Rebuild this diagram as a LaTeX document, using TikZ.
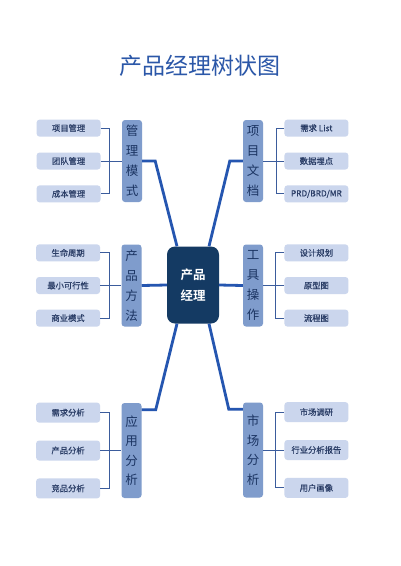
\documentclass[tikz,border=0pt]{standalone}
\usepackage{fontspec}
\setmainfont{Noto Sans CJK SC}[BoldFont={Noto Sans CJK SC Bold}]
\newfontfamily\leaffont{Noto Sans CJK SC}[FakeBold=0.7]
\usepackage{xcolor}
\usepackage{tikz}
\usetikzlibrary{positioning}

\definecolor{titleblue}{HTML}{2B57A8}
\definecolor{linkblue}{HTML}{2556B0}
\definecolor{bracketblue}{HTML}{3B5C9C}
\definecolor{hubnavy}{HTML}{143A63}
\definecolor{catfill}{HTML}{7F9CCC}
\definecolor{cattext}{HTML}{1B3462}
\definecolor{leaffill}{HTML}{CBD6ED}
\definecolor{leaftext}{HTML}{2A3D66}

\tikzset{
  title/.style={text=titleblue, font=\fontsize{23}{26}\selectfont},
  hub/.style={fill=hubnavy, rounded corners=8pt, minimum width=52pt, minimum height=77pt,
    inner sep=0pt, align=center, text=white, font=\bfseries\fontsize{12.5}{20.7}\selectfont},
  cat/.style={fill=catfill, rounded corners=3pt, minimum width=20pt, minimum height=82pt,
    inner sep=0pt, align=center, text=cattext, font=\fontsize{12.5}{20}\selectfont},
  tallcat/.style={cat, minimum height=95pt, font=\fontsize{12.5}{19.5}\selectfont},
  leaf/.style={fill=leaffill, rounded corners=3pt, minimum width=64pt, minimum height=17pt,
    inner sep=0pt, text=leaftext, font=\leaffont\fontsize{8.3}{10}\selectfont},
  tallleaf/.style={leaf, minimum height=20pt},
  link/.style={draw=linkblue, line width=2.8pt},
  bracket/.style={draw=bracketblue, line width=1pt},
}

\begin{document}
\begin{tikzpicture}[x=1pt, y=-1pt]
		  \fill[white] (0,0) rectangle (400,566);
		  \useasboundingbox (0,0) rectangle (400,566);

		  \node[title] (title) at (200,66) {产品经理树状图} ; %
		  \node[hub] (hub) at (193,285) {产品\\经理} ; %

		  % categories
		  \node[cat] (mgmt) at (132,161) {管\\理\\模\\式} ; %
		  \node[cat] (doc) at (253,161) {项\\目\\文\\档} ; %
		  \node[cat] (method) at (131.5,285.5) {产\\品\\方\\法} ; %
		  \node[cat] (tool) at (253,285.5) {工\\具\\操\\作} ; %
		  \node[tallcat] (app) at (131.5,450.5) {应\\用\\分\\析} ; %
		  \node[tallcat] (market) at (253,450) {市\\场\\分\\析} ; %

		  % leaves, top row
		  \node[leaf, left=21pt of mgmt] (team) {团队管理} ; %
		  \node[leaf, above=15.5pt of team] (proj) {项目管理} ; %
		  \node[leaf, below=15.5pt of team] (cost) {成本管理} ; %
		  \node[leaf, right=21pt of doc] (track) {数据埋点} ; %
		  \node[leaf, above=15.5pt of track] (req) {需求 List} ; %
		  \node[leaf, below=15.5pt of track] (prd) {PRD/BRD/MR} ; %

		  % leaves, middle row
		  \node[leaf, left=21pt of method] (mvp) {最小可行性} ; %
		  \node[leaf, above=15.2pt of mvp] (life) {生命周期} ; %
		  \node[leaf, below=15.2pt of mvp] (biz) {商业模式} ; %
		  \node[leaf, right=21pt of tool] (proto) {原型图} ; %
		  \node[leaf, above=15.2pt of proto] (plan) {设计规划} ; %
		  \node[leaf, below=15.2pt of proto] (flow) {流程图} ; %

		  % leaves, bottom row
		  \node[tallleaf, left=21pt of app] (prodan) {产品分析} ; %
		  \node[tallleaf, above=17.5pt of prodan] (reqan) {需求分析} ; %
		  \node[tallleaf, below=17.5pt of prodan] (compan) {竞品分析} ; %
		  \node[tallleaf, right=21pt of market] (industry) {行业分析报告} ; %
		  \node[tallleaf, above=17.5pt of industry] (survey) {市场调研} ; %
		  \node[tallleaf, below=17.5pt of industry] (persona) {用户画像} ; %

		  % trunk
		  \draw[link] (mgmt.east) -- ++(13pt,0) -- ([xshift=-16pt]hub.north);
		  \draw[link] (doc.west) -- ++(-13pt,0) -- ([xshift=16pt]hub.north);
		  \draw[link] (hub.west) -- (method.east);
		  \draw[link] (hub.east) -- (tool.west);
		  \draw[link] ([yshift=-7pt]app.north east) -- ++(14pt,0) -- ([xshift=-16pt]hub.south);
		  \draw[link] ([yshift=-7pt]market.north west) -- ++(-14pt,0) -- ([xshift=16pt]hub.south);

		  % brackets
		  \draw[bracket] (proj.east) -- ++(9pt,0) |- (cost.east);
		  \draw[bracket] (team.east) -- (mgmt.west);
		  \draw[bracket] (req.west) -- ++(-8pt,0) |- (prd.west);
		  \draw[bracket] (track.west) -- (doc.east);
		  \draw[bracket] (life.east) -- ++(9pt,0) |- (biz.east);
		  \draw[bracket] (mvp.east) -- (method.west);
		  \draw[bracket] (plan.west) -- ++(-9pt,0) |- (flow.west);
		  \draw[bracket] (proto.west) -- (tool.east);
		  \draw[bracket] (reqan.east) -- ++(9pt,0) |- (compan.east);
		  \draw[bracket] (prodan.east) -- (app.west);
		  \draw[bracket] (survey.west) -- ++(-9pt,0) |- (persona.west);
		  \draw[bracket] (industry.west) -- (market.east);
		\end{tikzpicture}
\end{document}
